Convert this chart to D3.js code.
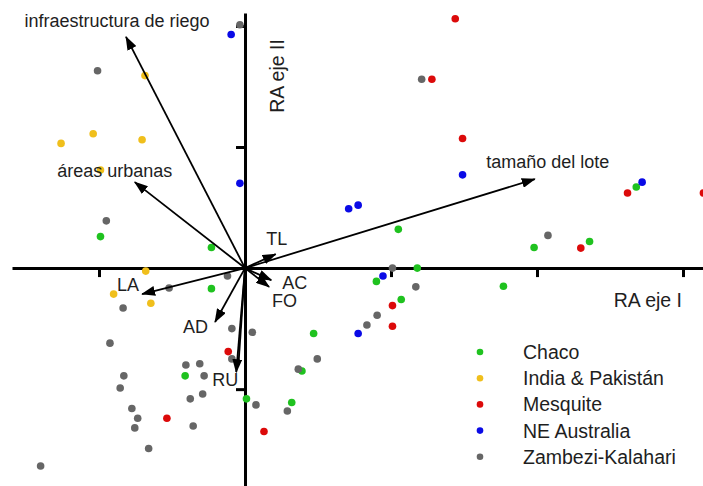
<!DOCTYPE html>
<html>
<head>
<meta charset="utf-8">
<script src="https://cdn.jsdelivr.net/npm/d3@7/dist/d3.min.js"></script>
<style>
  body { margin: 0; background: #fff; }
  svg text { font-family: "Liberation Sans", Arial, sans-serif; fill: #1e1e1e; }
</style>
</head>
<body>
<div id="chart"></div>
<script>
// RA scores per region [eje I, eje II]
var chaco = [
  [-0.99, 0.26], [-0.23, 0.17], [-0.23, -0.17], [1.05, 0.32], [1.18, 0.00],
  [0.90, -0.11], [1.07, -0.26], [0.47, -0.54], [1.77, -0.15], [1.98, 0.17],
  [2.36, 0.22], [2.68, 0.67], [-0.41, -0.89], [0.39, -0.85], [0.32, -1.11],
  [0.01, -1.08]
];
var india = [
  [-0.685, 1.59], [-1.26, 1.03], [-1.04, 1.11], [-0.705, 1.06], [-0.99, 0.81],
  [-0.68, -0.025], [-0.90, -0.215], [-0.645, -0.29]
];
var mesquite = [
  [1.44, 2.06], [1.28, 1.56], [1.49, 1.07], [2.62, 0.62], [3.14, 0.62],
  [2.30, 0.165], [1.01, -0.31], [1.01, -0.48], [-0.115, -0.69], [-0.535, -1.24],
  [0.13, -1.35]
];
var neAustralia = [
  [-0.095, 1.93], [-0.035, 0.70], [1.49, 0.77], [2.72, 0.71], [0.71, 0.49],
  [0.775, 0.52], [0.945, -0.065], [0.775, -0.54]
];
var zambezi = [
  [-0.035, 2.01], [-1.01, 1.63], [1.21, 1.56], [2.075, 0.27], [-0.95, 0.39],
  [-0.12, -0.065], [-0.52, -0.165], [-0.835, -0.33], [-0.925, -0.62], [-0.09, -0.50],
  [0.05, -0.53], [1.01, 0.00], [1.17, -0.155], [0.905, -0.39], [0.835, -0.47],
  [-0.09, -0.75], [-0.405, -0.80], [-0.31, -0.79], [-0.28, -0.89], [-0.83, -0.89],
  [-0.855, -0.99], [-0.29, -1.04], [-0.375, -1.08], [-0.775, -1.16], [-0.735, -1.24],
  [-0.755, -1.32], [-0.355, -1.305], [-0.66, -1.49], [-1.40, -1.635], [0.075, -1.13],
  [0.29, -1.18], [0.365, -0.835], [0.495, -0.75]
];

var seriesNames = ["Chaco", "India & Pakistán", "Mesquite", "NE Australia", "Zambezi-Kalahari"];
var seriesData = [chaco, india, mesquite, neAustralia, zambezi];
var seriesColors = ["#1fc21f", "#f0bf1c", "#dc0a0a", "#0a0ae6", "#666666"];

// environmental vectors (tips); the unnamed one runs alongside RU
var vectorNames = ["infraestructura de riego", "áreas urbanas", "tamaño del lote", "TL", "AC", "FO", "LA", "AD", "RU", ""];
var vectorTips = [
  [-0.815, 1.91], [-0.755, 0.71], [1.985, 0.735], [0.21, 0.115], [0.18, -0.10],
  [0.165, -0.155], [-0.705, -0.215], [-0.205, -0.445], [-0.06, -0.86], [-0.045, -0.80]
];

var xTicks = [-1, 1, 2, 3];
var yTicks = [-1, 1, 2];

var W = 703, H = 486;

var svg = d3.select("#chart").append("svg")
  .attr("width", W)
  .attr("height", H);

var x = d3.scaleLinear().domain([-1.596, 3.137]).range([12, 703]);
var y = d3.scaleLinear().domain([-1.80, 2.107]).range([486, 13]);

// axes through the origin
var xAxis = svg.append("g")
  .attr("transform", "translate(0," + y(0) + ")")
  .call(d3.axisBottom(x).tickValues(xTicks).tickFormat("").tickSize(9).tickSizeOuter(0));
var yAxis = svg.append("g")
  .attr("transform", "translate(" + x(0) + ",0)")
  .call(d3.axisLeft(y).tickValues(yTicks).tickFormat("").tickSize(9).tickSizeOuter(0));
[xAxis, yAxis].forEach(function(g) {
  g.select(".domain").attr("stroke", "#000").attr("stroke-width", 3);
  g.selectAll(".tick line").attr("stroke", "#000").attr("stroke-width", 3);
});

// points
seriesData.forEach(function(pts, i) {
  svg.append("g").selectAll("circle")
    .data(pts)
    .enter()
    .append("circle")
    .attr("cx", function(d) { return x(d[0]); })
    .attr("cy", function(d) { return y(d[1]); })
    .attr("r", 3.8)
    .attr("fill", seriesColors[i]);
});

// arrow marker
svg.append("defs").append("marker")
  .attr("id", "head")
  .attr("markerUnits", "userSpaceOnUse")
  .attr("viewBox", "0 0 14 10")
  .attr("refX", 13)
  .attr("refY", 5)
  .attr("markerWidth", 14)
  .attr("markerHeight", 10)
  .attr("orient", "auto")
  .append("path")
  .attr("d", "M0,0 L14,5 L0,10 z")
  .attr("fill", "#000");

svg.append("g").selectAll("line")
  .data(vectorTips)
  .enter()
  .append("line")
  .attr("x1", x(0))
  .attr("y1", y(0))
  .attr("x2", function(d) { return x(d[0]); })
  .attr("y2", function(d) { return y(d[1]); })
  .attr("stroke", "#000")
  .attr("stroke-width", 1.8)
  .attr("marker-end", function(d, i) { return vectorNames[i] ? "url(#head)" : null; });

// label offsets from the arrow tip (px)
var labelOffsets = {
  "infraestructura de riego": [-9, -10, "middle"],
  "áreas urbanas": [-20, -5, "middle"],
  "tamaño del lote": [13, -11, "middle"],
  "TL": [1, -9, "middle"],
  "AC": [11, 9, "start"],
  "FO": [3, 20, "start"],
  "LA": [-25, -3, "start"],
  "AD": [-32, 11, "start"],
  "RU": [-24, 14, "start"]
};
vectorNames.forEach(function(name, i) {
  if (!name) return;
  var o = labelOffsets[name];
  svg.append("text")
    .attr("x", x(vectorTips[i][0]) + o[0])
    .attr("y", y(vectorTips[i][1]) + o[1])
    .attr("text-anchor", o[2])
    .style("font-size", "18px")
    .text(name);
});

// axis titles
svg.append("text")
  .attr("x", 682)
  .attr("y", 307)
  .attr("text-anchor", "end")
  .style("font-size", "19.5px")
  .text("RA eje I");
svg.append("text")
  .attr("transform", "translate(284,76) rotate(-90)")
  .attr("text-anchor", "middle")
  .style("font-size", "19.5px")
  .text("RA eje II");

// legend
var legend = svg.append("g").attr("transform", "translate(480,352)");
seriesNames.forEach(function(name, i) {
  var row = legend.append("g").attr("transform", "translate(0," + (i * 26.2) + ")");
  row.append("circle").attr("r", 3.3).attr("fill", seriesColors[i]);
  row.append("text")
    .attr("x", 43)
    .attr("y", 7)
    .style("font-size", "19.5px")
    .text(name);
});
</script>
</body>
</html>
